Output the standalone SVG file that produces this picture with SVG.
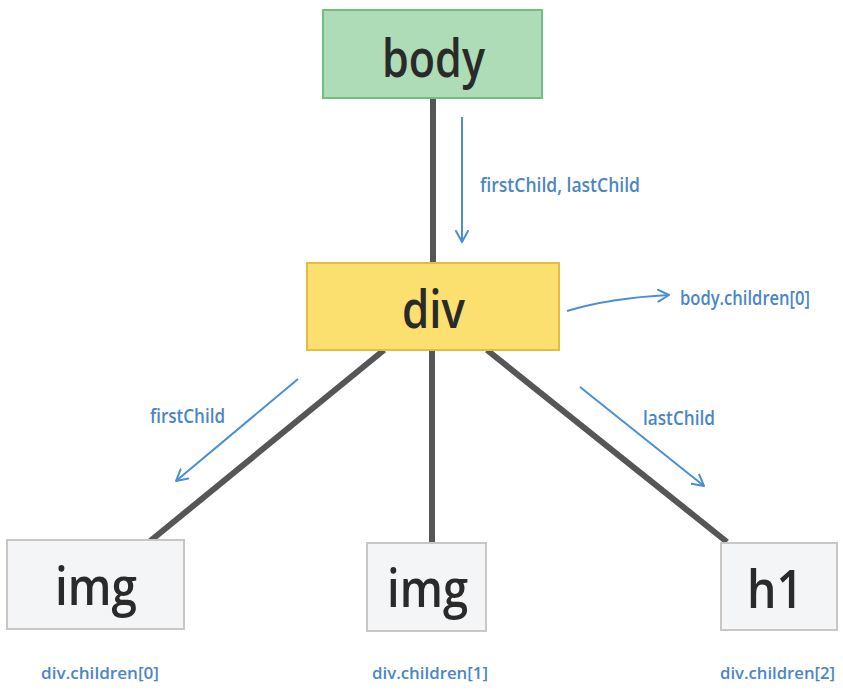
<svg xmlns="http://www.w3.org/2000/svg" width="843" height="691" viewBox="0 0 843 691">
<defs>
<style>
.tree{stroke:#565656;stroke-width:6;fill:none;stroke-linecap:butt}
.ptr{stroke:#4a8fd6;stroke-width:2;fill:none;marker-end:url(#ah)}
.lbl{font-family:"Open Sans","Noto Sans","Liberation Sans",sans-serif;font-size:19px;font-weight:600;fill:#4a86c6}
.bl{font-size:17px}
.nt{font-family:"Open Sans","Noto Sans","Liberation Sans",sans-serif;font-weight:600;font-size:52px;fill:#2a2a2a}
.leaf{fill:#f4f5f6;stroke:#c9c6c4;stroke-width:2}
</style>
<marker id="ah" viewBox="0 0 14 14" refX="12" refY="7" markerWidth="14" markerHeight="14" markerUnits="userSpaceOnUse" orient="auto">
<path d="M1,1 L12,7 L1,13" fill="none" stroke="#4a8fd6" stroke-width="2" stroke-linecap="round" stroke-linejoin="round"/>
</marker>
</defs>
<rect width="843" height="691" fill="#ffffff"/>
<g id="connectors">
<line class="tree" x1="433" y1="98" x2="433" y2="263"/>
<line class="tree" x1="384" y1="350" x2="149" y2="542"/>
<line class="tree" x1="432" y1="350" x2="432" y2="543"/>
<line class="tree" x1="487" y1="350" x2="727" y2="542"/>
<line class="ptr" x1="462" y1="117" x2="462" y2="242"/>
<path class="ptr" d="M567,311 Q610,298 669,295"/>
<line class="ptr" x1="298" y1="379" x2="176" y2="481"/>
<line class="ptr" x1="580" y1="387" x2="704" y2="486"/>
<text class="lbl" x="480" y="192" textLength="160" lengthAdjust="spacingAndGlyphs">firstChild, lastChild</text>
<text class="lbl" x="680" y="305" textLength="130" lengthAdjust="spacingAndGlyphs">body.children[0]</text>
<text class="lbl" x="150" y="423" textLength="75" lengthAdjust="spacingAndGlyphs">firstChild</text>
<text class="lbl" x="643" y="425" textLength="72" lengthAdjust="spacingAndGlyphs">lastChild</text>
</g>
<g id="body">
<rect x="323" y="10" width="219" height="88" fill="#aedcb6" stroke="#6fc07e" stroke-width="2"/>
<text class="nt" x="382" y="77" textLength="103" lengthAdjust="spacingAndGlyphs">body</text>
</g>
<g id="div">
<rect x="307" y="263" width="252" height="87" fill="#fbe070" stroke="#e3bb45" stroke-width="2"/>
<text class="nt" x="402" y="328" textLength="63" lengthAdjust="spacingAndGlyphs">div</text>
</g>
<g id="img0">
<rect class="leaf" x="7" y="540" width="177" height="89"/>
<text class="nt" x="55" y="605" textLength="82" lengthAdjust="spacingAndGlyphs">img</text>
<text class="lbl bl" x="41" y="679" textLength="118" lengthAdjust="spacingAndGlyphs">div.children[0]</text>
</g>
<g id="img1">
<rect class="leaf" x="367" y="543" width="119" height="88"/>
<text class="nt" x="387" y="607" textLength="81" lengthAdjust="spacingAndGlyphs">img</text>
<text class="lbl bl" x="372" y="679" textLength="116" lengthAdjust="spacingAndGlyphs">div.children[1]</text>
</g>
<g id="h1">
<rect class="leaf" x="721" y="543" width="116" height="87"/>
<text class="nt" x="747" y="608" textLength="56" lengthAdjust="spacingAndGlyphs">h1</text>
<text class="lbl bl" x="835" y="679" text-anchor="end" textLength="115" lengthAdjust="spacingAndGlyphs">div.children[2]</text>
</g>
</svg>
